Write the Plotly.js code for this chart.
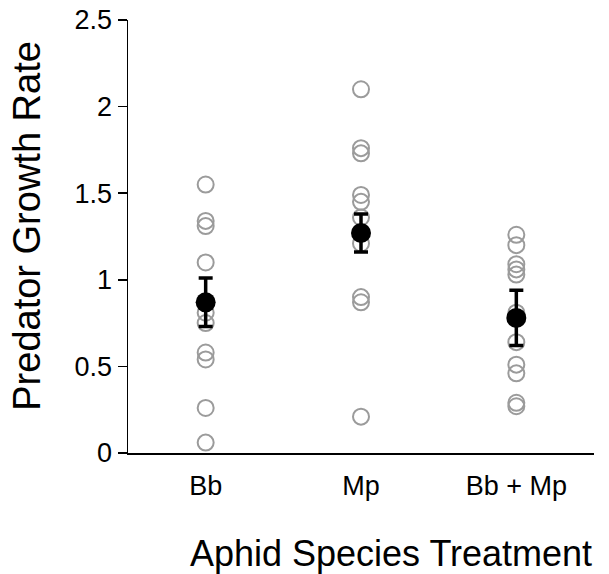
<!DOCTYPE html>
<html>
<head>
<meta charset="utf-8">
<script src="https://cdn.plot.ly/plotly-3.0.1.min.js"></script>
<style>html,body{margin:0;padding:0;background:#fff;}#chart{width:609px;height:574px;}</style>
</head>
<body>
<div id="chart"></div>
<script>
const categories = ["Bb", "Mp", "Bb + Mp"];
const bbValues = [1.55, 1.34, 1.31, 1.10, 0.81, 0.75, 0.58, 0.54, 0.26, 0.06];
const mpValues = [2.10, 1.76, 1.73, 1.49, 1.45, 1.36, 1.21, 0.90, 0.87, 0.21];
const bbMpValues = [1.26, 1.20, 1.09, 1.06, 1.03, 0.81, 0.64, 0.51, 0.46, 0.29, 0.27];
const means = [0.87, 1.27, 0.78];
const errors = [0.14, 0.11, 0.16];
const yTicks = [0, 0.5, 1, 1.5, 2, 2.5];
const yTickLabels = ["0", "0.5", "1", "1.5", "2", "2.5"];

const groups = [bbValues, mpValues, bbMpValues];
const traces = groups.map((vals, i) => ({
  type: "scatter", mode: "markers",
  x: vals.map(() => categories[i]), y: vals,
  marker: {symbol: "circle-open", size: 16, color: "#9b9b9b", line: {width: 2, color: "#9b9b9b"}},
  hoverinfo: "y", showlegend: false
}));
traces.push({
  type: "scatter", mode: "markers",
  x: categories, y: means,
  error_y: {type: "data", array: errors, visible: true, color: "#000", thickness: 3.5, width: 7},
  marker: {symbol: "circle", size: 20, color: "#000"},
  showlegend: false
});

const font = "Liberation Sans, Arial, sans-serif";
const pad = n => "\u200b" + "\u00a0".repeat(n);
const layout = {
  width: 609, height: 574,
  margin: {l: 128, r: 15, t: 20, b: 121},
  paper_bgcolor: "#fff", plot_bgcolor: "#fff",
  font: {family: font, color: "#000"},
  xaxis: {
    type: "category", categoryorder: "array", categoryarray: categories,
    range: [-0.5, 2.5], showline: true, linecolor: "#000", linewidth: 1.5,
    showgrid: false, zeroline: false, ticks: "", ticklabelstandoff: 8,
    tickfont: {size: 27, family: font},
    title: {text: pad(6) + "Aphid Species Treatment", font: {size: 36, family: font}, standoff: 42}
  },
  yaxis: {
    range: [0, 2.5], tickvals: yTicks, ticktext: yTickLabels,
    showline: true, linecolor: "#000", linewidth: 1.5,
    ticks: "outside", ticklen: 9, tickwidth: 1.5, tickcolor: "#000",
    showgrid: false, zeroline: false,
    tickfont: {size: 27, family: font},
    title: {text: pad(2) + "Predator Growth Rate", font: {size: 38, family: font}, standoff: 22}
  }
};
Plotly.newPlot("chart", traces, layout, {staticPlot: true, displayModeBar: false});
</script>
</body>
</html>
